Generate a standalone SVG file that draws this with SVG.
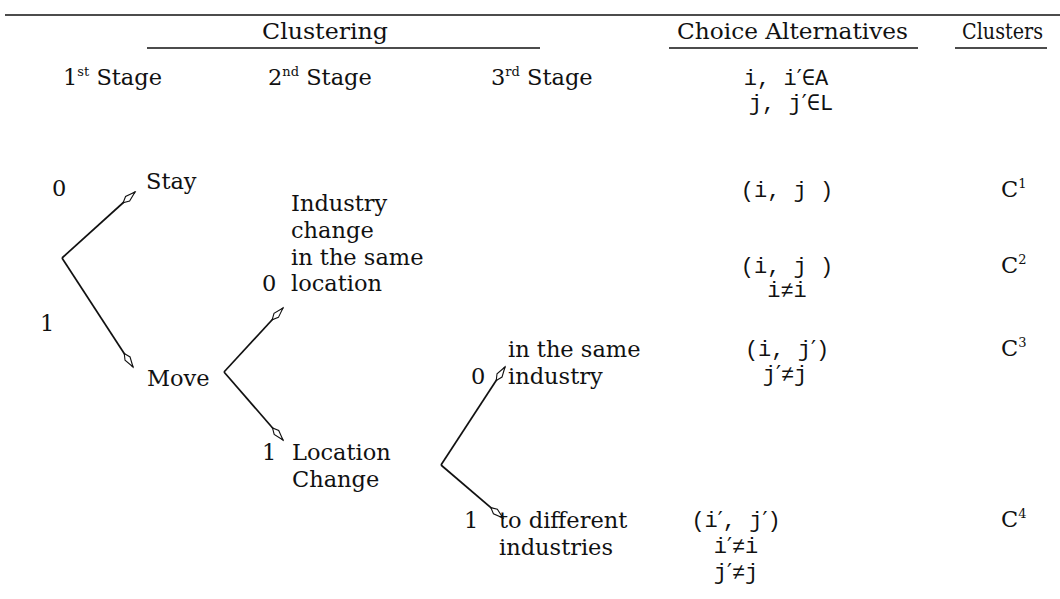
<svg xmlns="http://www.w3.org/2000/svg" width="1060" height="599" viewBox="0 0 1060 599">
<defs>
<style>
.t{font-family:"DejaVu Serif","Liberation Serif",serif;font-size:22.5px;fill:#111}
.m{font-family:"Liberation Mono","DejaVu Sans Mono",monospace;font-size:22px;fill:#111}
.p{font-family:"DejaVu Serif",serif}
.sup{font-size:13px}
.rule{stroke:#111;stroke-width:1.7;fill:none}
.edge{stroke:#111;stroke-width:1.7;fill:none}
</style>
<marker id="ah" viewBox="-17 -5 19 10" refX="0" refY="0" markerWidth="19" markerHeight="10" markerUnits="userSpaceOnUse" orient="auto">
<path d="M0,0 L-10,-3 L-16,0 L-10,3 Z" fill="#fff" stroke="#111" stroke-width="1.1"/>
</marker>
</defs>
<rect width="1060" height="599" fill="#fff"/>
<g id="header">
<line class="rule" x1="5" y1="15" x2="1060" y2="15" stroke-width="2"/>
<line class="rule" x1="147" y1="48" x2="540" y2="48"/>
<line class="rule" x1="669" y1="48" x2="918" y2="48"/>
<line class="rule" x1="955" y1="48" x2="1047" y2="48"/>
<text class="t" x="262" y="39" textLength="126" lengthAdjust="spacingAndGlyphs">Clustering</text>
<text class="t" x="677" y="39" textLength="231" lengthAdjust="spacingAndGlyphs">Choice Alternatives</text>
<text class="t" x="962" y="39" textLength="81" lengthAdjust="spacingAndGlyphs">Clusters</text>
<text class="t" x="63" y="85">1<tspan class="sup" dy="-9">st</tspan><tspan dy="9"> Stage</tspan></text>
<text class="t" x="268" y="85">2<tspan class="sup" dy="-9">nd</tspan><tspan dy="9"> Stage</tspan></text>
<text class="t" x="491" y="85">3<tspan class="sup" dy="-9">rd</tspan><tspan dy="9"> Stage</tspan></text>
<text class="m" x="786" y="85" text-anchor="middle">i,  i<tspan class="p">′</tspan>∈A</text>
<text class="m" x="791" y="110" text-anchor="middle">j, j<tspan class="p">′</tspan>∈L</text>
</g>
<g id="connectors">
<line class="edge" x1="62" y1="258" x2="135" y2="192" marker-end="url(#ah)"/>
<line class="edge" x1="62" y1="258" x2="133" y2="367" marker-end="url(#ah)"/>
<line class="edge" x1="224" y1="372" x2="283" y2="308" marker-end="url(#ah)"/>
<line class="edge" x1="224" y1="372" x2="283" y2="440" marker-end="url(#ah)"/>
<line class="edge" x1="441" y1="465" x2="505" y2="367" marker-end="url(#ah)"/>
<line class="edge" x1="441" y1="465" x2="503" y2="518" marker-end="url(#ah)"/>
</g>
<g id="stage1">
<text class="t" x="52" y="196">0</text>
<text class="t" x="40" y="331">1</text>
</g>
<g id="stay"><text class="t" x="146" y="189">Stay</text></g>
<g id="move"><text class="t" x="147" y="386">Move</text></g>
<g id="industry-change">
<text class="t" x="291" y="211">Industry</text>
<text class="t" x="291" y="238">change</text>
<text class="t" x="291" y="265">in the same</text>
<text class="t" x="262" y="291">0</text>
<text class="t" x="291" y="291">location</text>
</g>
<g id="location-change">
<text class="t" x="262" y="460">1</text>
<text class="t" x="292" y="460">Location</text>
<text class="t" x="292" y="487">Change</text>
</g>
<g id="same-industry">
<text class="t" x="508" y="357">in the same</text>
<text class="t" x="471" y="384">0</text>
<text class="t" x="508" y="384">industry</text>
</g>
<g id="different-industries">
<text class="t" x="464" y="528">1</text>
<text class="t" x="499" y="528">to different</text>
<text class="t" x="499" y="555">industries</text>
</g>
<g id="alt1">
<text class="m" x="787" y="197" text-anchor="middle">(i,  j )</text>
<text class="t" x="1001" y="197">C<tspan class="sup" dy="-9">1</tspan></text>
</g>
<g id="alt2">
<text class="m" x="787" y="273" text-anchor="middle">(i,  j )</text>
<text class="m" x="787" y="297" text-anchor="middle">i≠i</text>
<text class="t" x="1001" y="273">C<tspan class="sup" dy="-9">2</tspan></text>
</g>
<g id="alt3">
<text class="m" x="787" y="356" text-anchor="middle">(i,  j<tspan class="p">′</tspan>)</text>
<text class="m" x="785" y="381" text-anchor="middle">j<tspan class="p">′</tspan>≠j</text>
<text class="t" x="1001" y="356">C<tspan class="sup" dy="-9">3</tspan></text>
</g>
<g id="alt4">
<text class="m" x="736" y="527" text-anchor="middle">(i<tspan class="p">′</tspan>, j<tspan class="p">′</tspan>)</text>
<text class="m" x="736" y="553" text-anchor="middle">i<tspan class="p">′</tspan>≠i</text>
<text class="m" x="736" y="579" text-anchor="middle">j<tspan class="p">′</tspan>≠j</text>
<text class="t" x="1001" y="527">C<tspan class="sup" dy="-9">4</tspan></text>
</g>
</svg>
